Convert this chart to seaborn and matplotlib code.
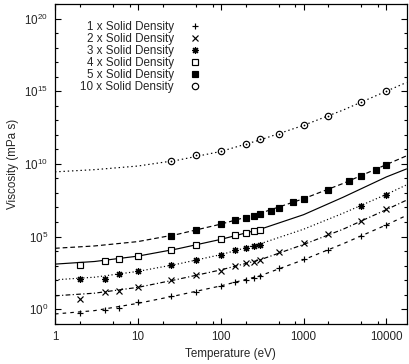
import numpy as np
import pandas as pd
import matplotlib
matplotlib.use("Agg")
import matplotlib.pyplot as plt
import matplotlib.ticker as mticker
import seaborn as sns

# ---------------- data ----------------
labels = ["1 x Solid Density", "2 x Solid Density", "3 x Solid Density",
          "4 x Solid Density", "5 x Solid Density", "10 x Solid Density"]

# measured points: temperature (eV) and log10 viscosity (mPa s)
t1 = [2, 4, 6, 10, 25, 50, 100, 150, 200, 250, 300, 500, 1000, 2000, 5000, 10000]
v1 = [-0.28, -0.03, 0.11, 0.46, 0.92, 1.20, 1.58, 1.90, 2.04, 2.13, 2.27, 2.83, 3.45, 4.09, 5.06, 5.79]

t2 = [2, 4, 6, 10, 25, 50, 100, 150, 200, 250, 300, 500, 1000, 2000, 5000, 10000]
v2 = [0.73, 1.15, 1.28, 1.51, 2.00, 2.34, 2.64, 2.99, 3.15, 3.24, 3.38, 3.91, 4.53, 5.17, 6.10, 6.86]

t3 = [2, 4, 6, 10, 25, 50, 100, 150, 200, 250, 300, 5000, 10000]
v3 = [2.07, 2.11, 2.44, 2.64, 3.03, 3.38, 3.75, 4.05, 4.19, 4.34, 4.44, 7.13, 7.87]

t4 = [2, 4, 6, 10, 25, 50, 100, 150, 200, 250, 300]
v4 = [3.03, 3.29, 3.45, 3.68, 4.05, 4.44, 4.81, 5.08, 5.23, 5.36, 5.48]

t5 = [25, 50, 100, 150, 200, 250, 300, 400, 500, 750, 1000, 2000, 3500, 5000, 7500, 10000]
v5 = [5.06, 5.45, 5.84, 6.12, 6.28, 6.40, 6.58, 6.76, 6.97, 7.38, 7.59, 8.19, 8.81, 9.18, 9.57, 9.92]

t10 = [25, 50, 100, 200, 300, 500, 1000, 2000, 5000, 10000]
v10 = [10.2, 10.6, 10.88, 11.35, 11.69, 12.08, 12.68, 13.30, 14.25, 15.03]

# fitted curves (log10 viscosity)
tc = [1, 3, 10, 30, 100, 300, 1000, 3000, 10000, 17500]
c1 = [-0.33, -0.10, 0.40, 0.95, 1.60, 2.30, 3.40, 4.50, 5.80, 6.45]
c2 = [0.92, 1.10, 1.50, 2.05, 2.70, 3.40, 4.45, 5.50, 6.85, 7.50]
c3 = [2.02, 2.20, 2.60, 3.10, 3.75, 4.50, 5.50, 6.60, 7.90, 8.55]
c4 = [3.10, 3.28, 3.65, 4.15, 4.80, 5.50, 6.50, 7.70, 9.10, 9.65]
c5 = [4.19, 4.35, 4.65, 5.15, 5.85, 6.60, 7.60, 8.65, 9.95, 10.55]
c10 = [9.45, 9.60, 9.85, 10.25, 10.85, 11.65, 12.65, 13.70, 15.00, 15.60]

xtick_vals = [1, 10, 100, 1000, 10000]
xtick_labels = ["1", "10", "100", "1000", "10000"]

# ---------------- styling ----------------
sns.set_theme(style="ticks")
plt.rcParams["font.family"] = ["Liberation Sans", "DejaVu Sans"]
plt.rcParams["mathtext.fontset"] = "custom"
plt.rcParams["mathtext.rm"] = "Liberation Sans"
plt.rcParams["mathtext.it"] = "Liberation Sans:italic"
fs = 8.4

fig = plt.figure(figsize=(4.09, 3.64), dpi=100)
ax = fig.add_axes([55 / 409, 1 - 323.7 / 364, 351.5 / 409, 319.7 / 364])

points = [(t1, v1), (t2, v2), (t3, v3), (t4, v4), (t5, v5), (t10, v10)]
curves = [c1, c2, c3, c4, c5, c10]
line_styles = [(0, (3, 3.5)), (0, (4, 2, 1, 2)), (0, (1, 2)), "-", (0, (4, 2.5)), (0, (1.2, 2.4))]
markers = ["+", "x", (8, 2, 0), "s", "s", "o"]
msizes = [5.0, 4.6, 5.0, 4.4, 4.6, 4.6]
filled = [False, False, False, False, True, False]

lw = 0.85
handles = []
for i in range(6):
    dc = pd.DataFrame({"T": tc, "V": np.power(10.0, curves[i])})
    sns.lineplot(data=dc, x="T", y="V", ax=ax, color="black", linewidth=lw,
                 linestyle=line_styles[i], estimator=None, sort=True, legend=False)
    dp = pd.DataFrame({"T": points[i][0], "V": np.power(10.0, points[i][1])})
    kw = dict(marker=markers[i], markersize=msizes[i], markeredgewidth=0.85,
              markeredgecolor="black", color="black")
    if markers[i] in ("s", "o"):
        kw["markerfacecolor"] = "black" if filled[i] else "white"
    sns.lineplot(data=dp, x="T", y="V", ax=ax, linestyle="none", estimator=None,
                 legend=False, zorder=3, **kw)
    h = ax.lines[-1]
    handles.append(h)
    if i == 5:
        sns.lineplot(data=dp, x="T", y="V", ax=ax, linestyle="none", estimator=None,
                     legend=False, zorder=4, marker="o", markersize=1.3,
                     color="black", markeredgewidth=0)

ax.set_xscale("log")
ax.set_yscale("log")
ax.set_xlim(1, 17500)
ax.set_ylim(1e-1, 1e21)

ax.xaxis.set_major_locator(mticker.FixedLocator(xtick_vals))
ax.xaxis.set_major_formatter(mticker.FixedFormatter(xtick_labels))
ax.xaxis.set_minor_locator(mticker.LogLocator(base=10, subs=(2, 5, 8), numticks=20))
ax.xaxis.set_minor_formatter(mticker.NullFormatter())

ax.yaxis.set_major_locator(mticker.FixedLocator([1e0, 1e5, 1e10, 1e15, 1e20]))
ax.yaxis.set_major_formatter(mticker.LogFormatterSciNotation())
ax.yaxis.set_minor_locator(mticker.FixedLocator([10.0 ** k for k in range(-1, 22)]))
ax.yaxis.set_minor_formatter(mticker.NullFormatter())

ax.tick_params(which="both", direction="in", top=True, right=True, color="black",
               labelsize=fs, pad=5)
ax.tick_params(which="major", length=4.5, width=0.8)
ax.tick_params(which="minor", length=2.5, width=0.8)
for s in ax.spines.values():
    s.set_linewidth(0.9)
    s.set_color("black")

ax.set_xlabel("Temperature (eV)", fontsize=fs, labelpad=4)
ax.set_ylabel("Viscosity (mPa s)", fontsize=fs, labelpad=4)

leg = ax.legend(handles, labels, loc="upper right", bbox_to_anchor=(0.415, 0.946),
                markerfirst=False, frameon=False, fontsize=fs, handlelength=1.0,
                handletextpad=1.3, labelspacing=0.0, borderpad=0, borderaxespad=0)

fig.savefig("out.png", dpi=100)
